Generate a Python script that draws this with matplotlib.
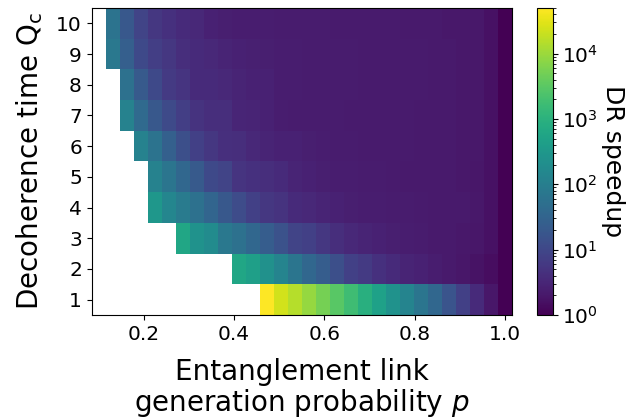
import numpy as np
import matplotlib
matplotlib.use("Agg")
import matplotlib.pyplot as plt
from matplotlib.colors import LogNorm

# Entanglement link generation probability (column centres)
p_values = np.linspace(0.1, 1.0, 30)
# Decoherence time Q_c (rows)
q_values = np.arange(1, 11)

# DR speedup per row (values start at the first filled column, end at p=1.0)
speedup_q1 = [50000, 23500, 15200, 8870, 5160, 3010, 1750, 914, 478, 250,
              130, 68, 36, 16.7, 7.8, 3.7, 1.9, 1.0]
speedup_q2 = [593, 429, 224, 130, 68, 35.6, 23.1, 13.4, 7.8, 6.3, 4.5, 3.7,
              2.95, 2.65, 2.38, 2.13, 1.91, 1.72, 1.46, 1.0]
speedup_q3 = [593, 250, 180, 76, 55, 35.6, 23.1, 15.0, 8.7, 7.8, 5.65, 4.08,
              3.29, 2.95, 2.65, 2.51, 2.38, 2.25, 2.13, 2.09, 2.02, 1.91, 1.63, 1.0]
speedup_q4 = [310, 145, 85, 55, 32, 18.6, 12.0, 7.8, 5.65, 4.8, 3.66, 3.29,
              2.95, 2.65, 2.51, 2.38, 2.33, 2.25, 2.25, 2.18, 2.13, 2.13, 2.09,
              2.02, 1.63, 1.0]
speedup_q5 = [117, 68, 35.6, 20.7, 10.8, 8.7, 5.07, 4.55, 4.08, 3.66, 2.95,
              2.65, 2.45, 2.38, 2.33, 2.25, 2.25, 2.18, 2.13, 2.13, 2.13, 2.09,
              2.02, 1.91, 1.63, 1.0]
speedup_q6 = [117, 61, 27, 13.4, 7.8, 5.65, 4.3, 4.08, 3.29, 2.95, 2.75, 2.65,
              2.45, 2.33, 2.25, 2.25, 2.2, 2.2, 2.15, 2.15, 2.13, 2.1, 2.1,
              2.05, 2.0, 1.63, 1.0]
speedup_q7 = [117, 39.6, 18.6, 11.4, 7.0, 4.8, 4.08, 4.08, 3.12, 2.95, 2.65,
              2.38, 2.3, 2.3, 2.25, 2.25, 2.2, 2.2, 2.2, 2.15, 2.15, 2.13, 2.1,
              2.1, 2.05, 2.0, 1.63, 1.0]
speedup_q8 = [55, 20.7, 10.8, 6.3, 5.07, 3.66, 3.66, 3.29, 2.95, 2.65, 2.65,
              2.4, 2.35, 2.3, 2.3, 2.25, 2.25, 2.2, 2.2, 2.2, 2.15, 2.15, 2.1,
              2.1, 2.05, 2.0, 1.63, 1.0]
speedup_q9 = [76, 25.7, 10.8, 7.0, 5.65, 4.08, 3.66, 3.29, 2.95, 2.7, 2.55,
              2.45, 2.4, 2.35, 2.3, 2.3, 2.25, 2.25, 2.2, 2.2, 2.2, 2.15, 2.15,
              2.1, 2.1, 2.05, 2.0, 1.63, 1.0]
speedup_q10 = [61, 18.6, 8.7, 5.65, 4.55, 3.66, 3.29, 2.65, 2.5, 2.4, 2.4,
               2.35, 2.3, 2.3, 2.25, 2.25, 2.2, 2.2, 2.2, 2.15, 2.15, 2.1, 2.1,
               2.1, 2.05, 2.05, 2.0, 1.63, 1.0]

rows = [speedup_q1, speedup_q2, speedup_q3, speedup_q4, speedup_q5,
        speedup_q6, speedup_q7, speedup_q8, speedup_q9, speedup_q10]

n_p = len(p_values)
grid = np.full((len(q_values), n_p), np.nan)
for i, r in enumerate(rows):
    grid[i, n_p - len(r):] = r
grid = np.ma.masked_invalid(grid)

dp = p_values[1] - p_values[0]
x_edges = np.concatenate([p_values - dp / 2, [p_values[-1] + dp / 2]])
y_edges = np.concatenate([q_values - 0.5, [q_values[-1] + 0.5]])

fig = plt.figure(figsize=(6.28, 4.2), dpi=100)
ax = fig.add_axes([0.146, 0.25, 0.669, 0.731])
cax = fig.add_axes([0.8555, 0.25, 0.0245, 0.731])

mesh = ax.pcolormesh(x_edges, y_edges, grid, cmap="viridis",
                     norm=LogNorm(vmin=1, vmax=5e4))
ax.set_xlim(x_edges[0], x_edges[-1])
ax.set_ylim(y_edges[0], y_edges[-1])
ax.set_xticks([0.2, 0.4, 0.6, 0.8, 1.0])
ax.set_xticklabels(["0.2", "0.4", "0.6", "0.8", "1.0"])
ax.set_yticks(q_values)
ax.tick_params(labelsize=14.5)
ax.set_xlabel("Entanglement link\ngeneration probability $p$", fontsize=20,
              linespacing=1.05, labelpad=10)
ax.set_ylabel(r"Decoherence time $\mathrm{Q_c}$", fontsize=20, labelpad=8)

cb = fig.colorbar(mesh, cax=cax)
cb.ax.tick_params(labelsize=14.5)
cb.set_label("DR speedup", fontsize=18, rotation=270, labelpad=19)

fig.savefig("out.png", dpi=100)
